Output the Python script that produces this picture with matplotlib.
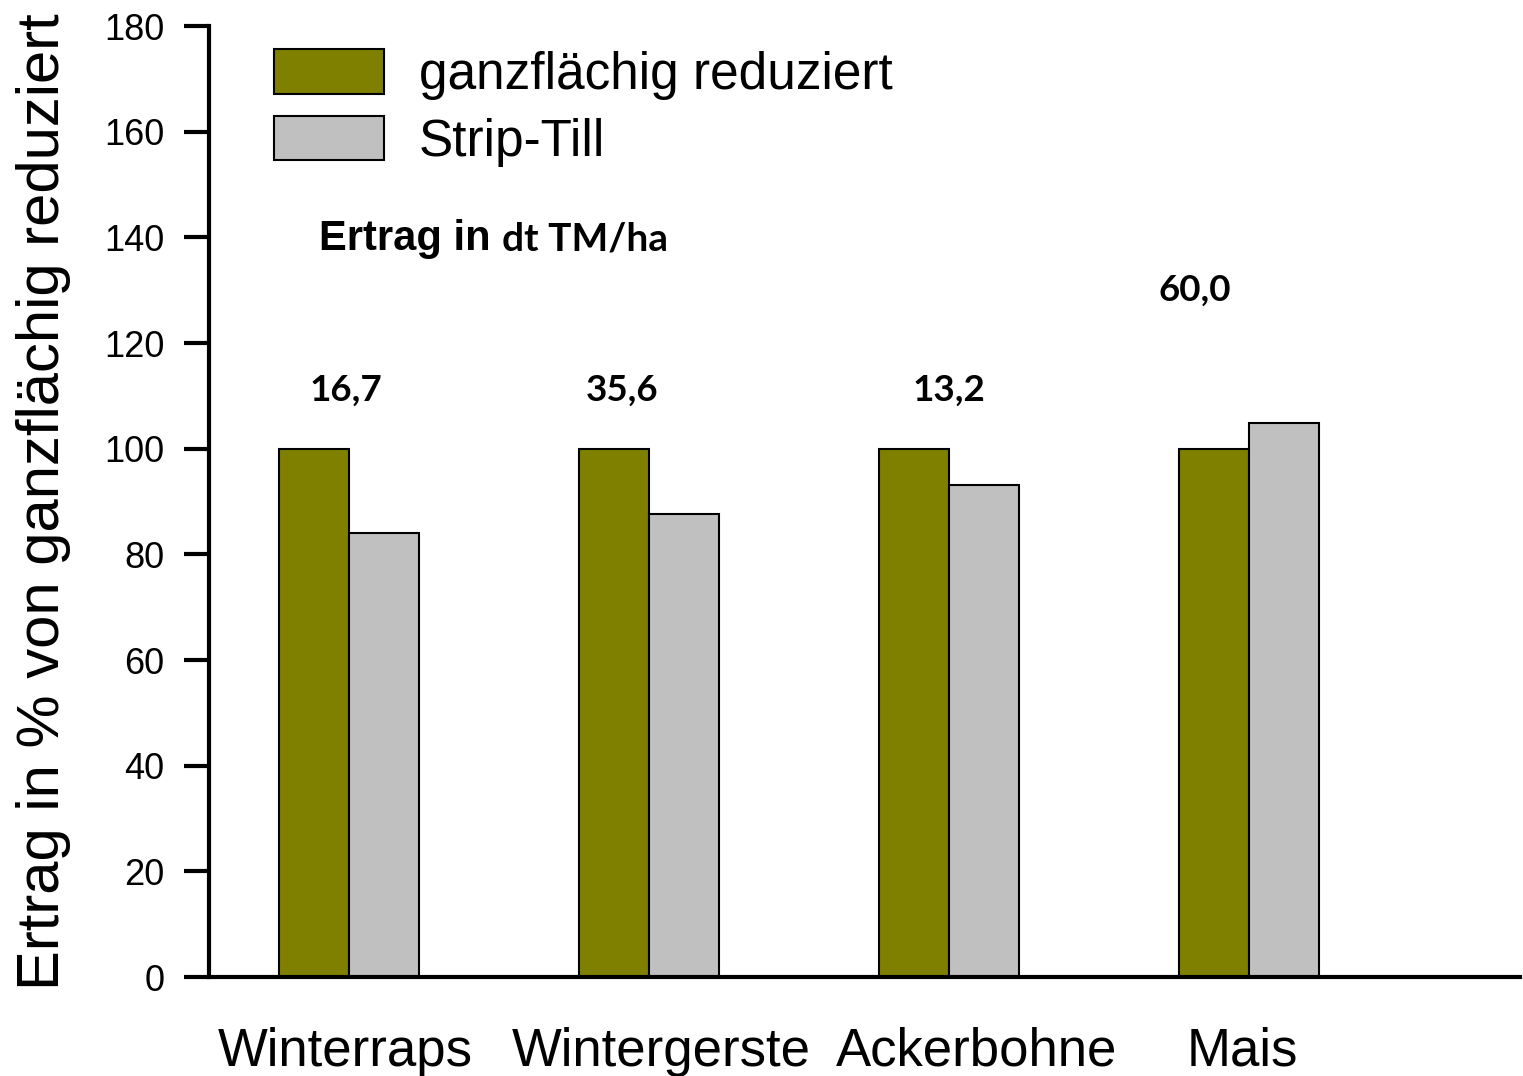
import matplotlib.pyplot as plt
import numpy as np

crops = ['Winterraps', 'Wintergerste', 'Ackerbohne', 'Mais']
ganzflaechig = [100, 100, 100, 100]
strip_till = [84.0, 87.6, 93.1, 104.9]
ertrag_labels = ['16,7', '35,6', '13,2', '60,0']

# label placement (x in group units, y in %)
ertrag_x = [-0.01, 0.91, 2.0, 2.82]
ertrag_y = [111, 111, 111, 130]
label_shift = [-4, 12, 28, -7]  # px offset of category labels

green = '#808000'
grey = '#c0c0c0'

fig = plt.figure(figsize=(15.23, 10.76), dpi=100)
ax = fig.add_axes([0.1372, 0.092, 0.8608, 0.8838])

x = np.arange(len(crops))
w = 0.2333
ax.bar(x - w / 2, ganzflaechig, w, color=green, edgecolor='black', linewidth=1.5,
       label='ganzflächig reduziert', zorder=2)
ax.bar(x + w / 2, strip_till, w, color=grey, edgecolor='black', linewidth=1.5,
       label='Strip-Till', zorder=2)

ax.set_xlim(-0.467, 3.903)
ax.set_ylim(0, 180)
ax.set_yticks(np.arange(0, 181, 20))
ax.set_xticks([])

# category labels below the axis
for xi, name, dx in zip(x, crops, label_shift):
    ax.annotate(name, xy=(xi, 0), xycoords=('data', 'axes fraction'),
                xytext=(dx * 0.72, -64), textcoords='offset points',
                ha='center', va='baseline', fontsize=38, family='Liberation Sans')

ax.tick_params(axis='y', length=18, width=3, labelsize=26, pad=14)
for lab in ax.get_yticklabels():
    lab.set_family('Liberation Sans')

for s in ['top', 'right']:
    ax.spines[s].set_visible(False)
for s in ['left', 'bottom']:
    ax.spines[s].set_linewidth(3)
    ax.spines[s].set_zorder(3)

ax.set_ylabel('Ertrag in % von ganzflächig reduziert', fontsize=43,
              family='Liberation Sans')
ax.yaxis.set_label_coords(-0.105, 0.5)

for xi, yi, t in zip(ertrag_x, ertrag_y, ertrag_labels):
    ax.text(xi, yi, t, ha='center', va='center', fontsize=26.5,
            family='Lato', fontweight='bold')

t1 = ax.text(-0.1, 137.6, 'Ertrag in ', ha='left', va='baseline', fontsize=30,
             family='Liberation Sans', fontweight='bold')
ax.annotate('dt TM/ha', xy=(1, 0), xycoords=t1, xytext=(0, 6.5),
            textcoords='offset points', va='baseline', ha='left',
            fontsize=28, family='Lato', fontweight='bold')

ax.legend(loc='upper left', bbox_to_anchor=(0.034, 0.997), frameon=False,
          prop={'family': 'Liberation Sans', 'size': 37},
          handlelength=2.13, handleheight=0.95, handletextpad=0.69,
          labelspacing=0.3, borderaxespad=0)

fig.savefig('out.png', dpi=100)
